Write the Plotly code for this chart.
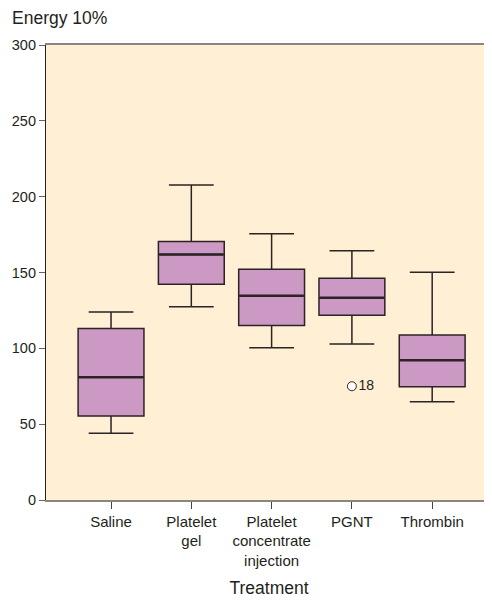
import plotly.graph_objects as go

categories = ["Saline", "Platelet<br>gel", "Platelet<br>concentrate<br>injection", "PGNT", "Thrombin"]
lower_whisker = [44, 127.5, 100.4, 102.9, 64.8]
q1_vals = [55.4, 142.2, 115.0, 121.8, 74.7]
median_vals = [80.9, 161.8, 134.7, 133.4, 92.1]
q3_vals = [113.0, 170.5, 152.1, 146.2, 108.8]
upper_whisker = [124.0, 207.7, 175.6, 164.4, 150.1]
outlier_category = [3]
outlier_values = [75]
outlier_labels = ["18"]
y_ticks = [0, 50, 100, 150, 200, 250, 300]

positions = list(range(len(categories)))
box_w = 0.82
fill = "#CC99C5"
edge = "#2b2326"
bg = "#FFEFD4"
txt = "#231f20"
font_family = "Liberation Sans, Arial, sans-serif"

# page body has an 8px default margin; size the figure to fill the window
W, H = 484, 593

fig = go.Figure()
fig.add_trace(go.Box(
    x=positions, q1=q1_vals, median=median_vals, q3=q3_vals,
    lowerfence=lower_whisker, upperfence=upper_whisker,
    width=box_w, whiskerwidth=0.68, fillcolor=fill,
    line=dict(color=edge, width=1.5), boxpoints=False, showlegend=False,
    hoverinfo="skip",
))
for p, m in zip(positions, median_vals):
    fig.add_trace(go.Scatter(
        x=[p - box_w / 2 + 0.01, p + box_w / 2 - 0.01], y=[m, m], mode="lines",
        line=dict(color=edge, width=2.5), showlegend=False, hoverinfo="skip",
    ))
fig.add_trace(go.Scatter(
    x=outlier_category, y=outlier_values, mode="markers+text",
    text=outlier_labels, textposition="middle right",
    textfont=dict(size=14, color=txt, family=font_family),
    marker=dict(symbol="circle", size=9, color="white", line=dict(color=edge, width=1)),
    showlegend=False, hoverinfo="skip",
))

fig.update_layout(
    width=W, height=H,
    margin=dict(l=38, r=0, t=37, b=101),
    paper_bgcolor="white", plot_bgcolor=bg,
    font=dict(family=font_family, size=15, color=txt),
    title=dict(text="Energy 10%", x=4 / W, xref="container",
               xanchor="left", y=1 - 10 / H, yanchor="middle",
               font=dict(size=17.5, color=txt, family=font_family)),
    xaxis=dict(
        range=[-0.81, 4.745], tickvals=positions, ticktext=categories,
        showgrid=False, zeroline=False, showline=True, linecolor="#8a8580",
        linewidth=1.5, mirror=True, ticks="outside", ticklen=7, tickcolor="#444",
        tickfont=dict(size=15),
        title=dict(text="Treatment", standoff=14, font=dict(size=17.5)),
    ),
    yaxis=dict(
        range=[0, 300], tickvals=y_ticks, showgrid=False, zeroline=False,
        showline=True, linecolor="#222", linewidth=1.2, ticks="outside",
        ticklen=6, tickcolor="#666", tickfont=dict(size=14.5),
    ),
)
fig.write_html("out.html")
